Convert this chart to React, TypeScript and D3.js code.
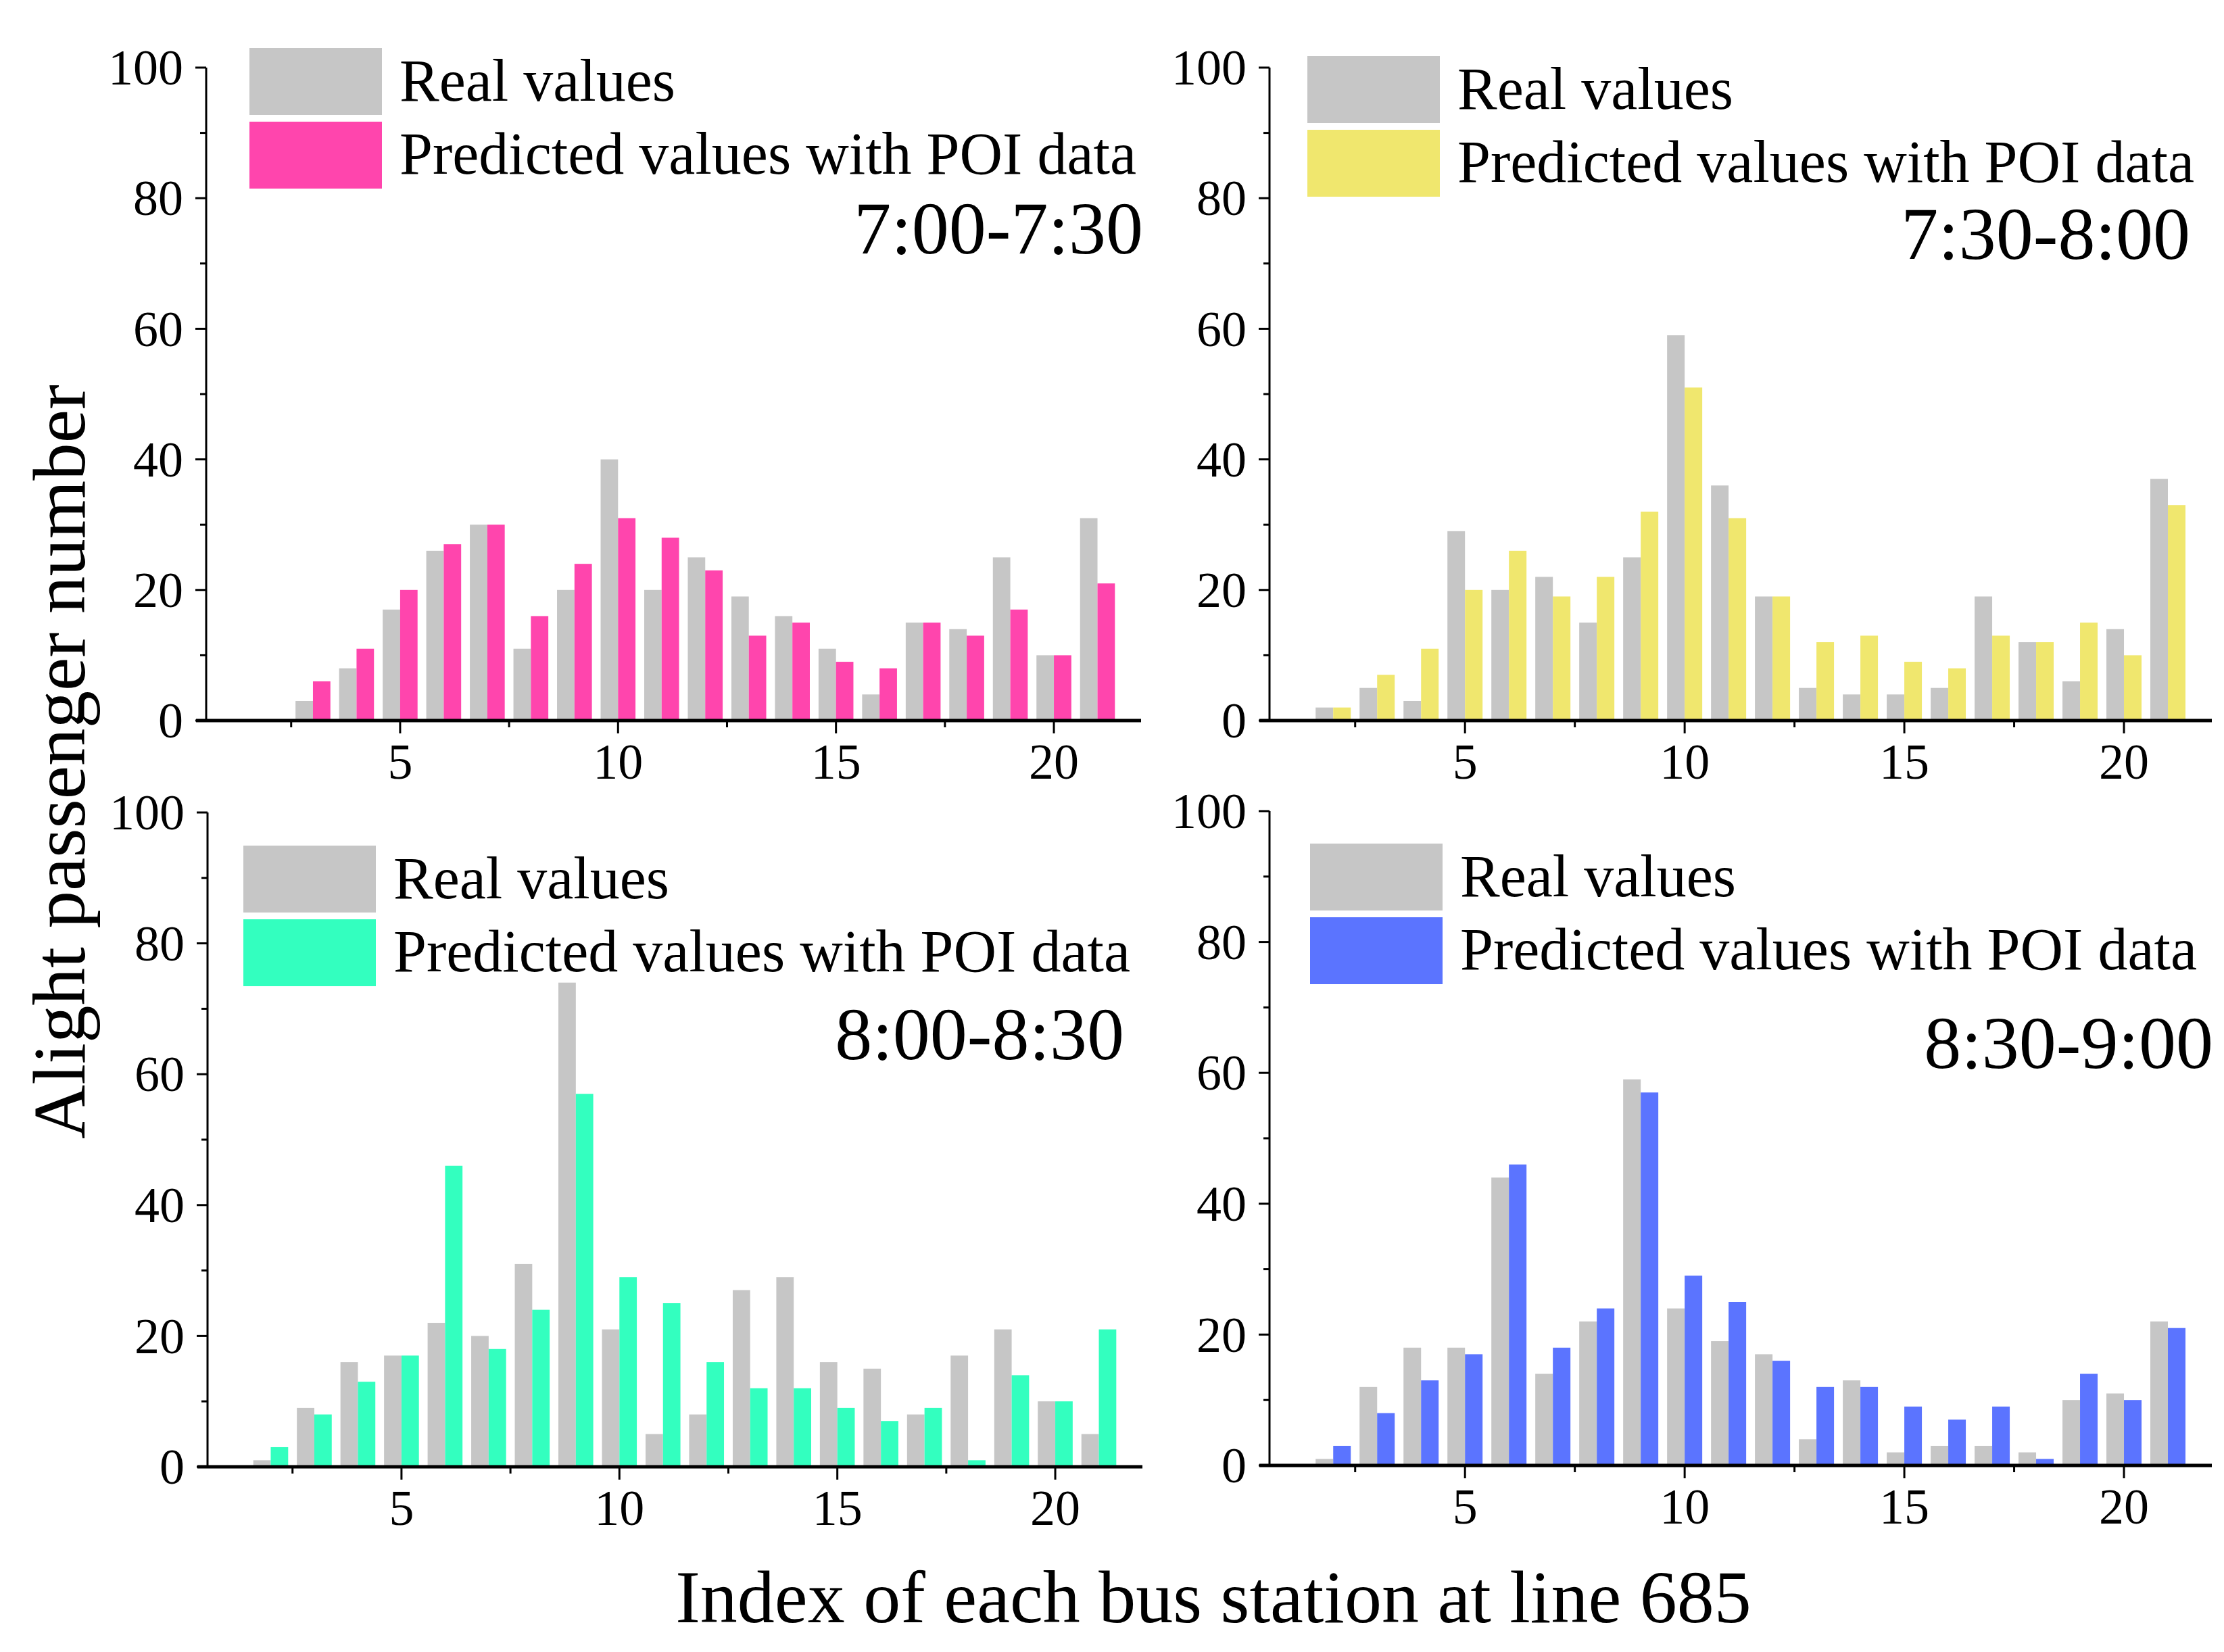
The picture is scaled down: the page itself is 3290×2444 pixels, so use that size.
import * as d3 from "d3";

const W = 3290;
const H = 2444;
const FONT = "'Liberation Serif', 'Times New Roman', serif";

const stations = d3.range(1, 22);

const real0700 = [0, 0, 3, 8, 17, 26, 30, 11, 20, 40, 20, 25, 19, 16, 11, 4, 15, 14, 25, 10, 31];
const pred0700 = [0, 0, 6, 11, 20, 27, 30, 16, 24, 31, 28, 23, 13, 15, 9, 8, 15, 13, 17, 10, 21];
const real0730 = [0, 2, 5, 3, 29, 20, 22, 15, 25, 59, 36, 19, 5, 4, 4, 5, 19, 12, 6, 14, 37];
const pred0730 = [0, 2, 7, 11, 20, 26, 19, 22, 32, 51, 31, 19, 12, 13, 9, 8, 13, 12, 15, 10, 33];
const real0800 = [0, 1, 9, 16, 17, 22, 20, 31, 74, 21, 5, 8, 27, 29, 16, 15, 8, 17, 21, 10, 5];
const pred0800 = [0, 3, 8, 13, 17, 46, 18, 24, 57, 29, 25, 16, 12, 12, 9, 7, 9, 1, 14, 10, 21];
const real0830 = [0, 1, 12, 18, 18, 44, 14, 22, 59, 24, 19, 17, 4, 13, 2, 3, 3, 2, 10, 11, 22];
const pred0830 = [0, 3, 8, 13, 17, 46, 18, 24, 57, 29, 25, 16, 12, 12, 9, 7, 9, 1, 14, 10, 21];

const periods = ["7:00-7:30", "7:30-8:00", "8:00-8:30", "8:30-9:00"];
const predColors = ["#ff45ad", "#f0e76e", "#33ffbf", "#5b74ff"];
const realColor = "#c6c6c6";
const legendLabels = ["Real values", "Predicted values with POI data"];

const xTicks = [5, 10, 15, 20];
const xMinor = [2.5, 7.5, 12.5, 17.5];
const yTicks = [0, 20, 40, 60, 80, 100];
const yMinor = [10, 30, 50, 70, 90];

// panel frames in page pixels
const frames = [
  { x0: 305, x1: 1688, top: 100, bot: 1066, lx: 369, ly: 71, tx: 1691, ty: 375 },
  { x0: 1878, x1: 3272, top: 100, bot: 1066, lx: 1934, ly: 83, tx: 3240, ty: 383 },
  { x0: 307, x1: 1690, top: 1202, bot: 2170, lx: 360, ly: 1251, tx: 1663, ty: 1567 },
  { x0: 1878, x1: 3272, top: 1200, bot: 2168, lx: 1938, ly: 1248, tx: 3274, ty: 1580 },
];

const series = [
  [real0700, pred0700],
  [real0730, pred0730],
  [real0800, pred0800],
  [real0830, pred0830],
];

function Panel({ i }: { i: number }) {
  const f = frames[i];
  const [real, pred] = series[i];
  const x = d3.scaleLinear().domain([0.55, 22]).range([f.x0, f.x1]);
  const y = d3.scaleLinear().domain([0, 100]).range([f.bot, f.top]);
  const bw = x(0.4) - x(0);

  return (
    <g>
      {stations.map((s, k) => (
        <g key={s}>
          <rect x={x(s - 0.4)} y={y(real[k])} width={bw} height={y(0) - y(real[k])} fill={realColor} />
          <rect x={x(s)} y={y(pred[k])} width={bw} height={y(0) - y(pred[k])} fill={predColors[i]} />
        </g>
      ))}

      {/* y axis */}
      <line x1={f.x0} x2={f.x0} y1={f.top} y2={f.bot} stroke="#000" strokeWidth={3} />
      {yTicks.map((t) => (
        <g key={t}>
          <line x1={f.x0 - 16} x2={f.x0} y1={y(t)} y2={y(t)} stroke="#000" strokeWidth={3} />
          <text x={f.x0 - 34} y={y(t)} dy="0.34em" textAnchor="end" fontSize={74} fontFamily={FONT}>
            {t}
          </text>
        </g>
      ))}
      {yMinor.map((t) => (
        <line key={t} x1={f.x0 - 9} x2={f.x0} y1={y(t)} y2={y(t)} stroke="#000" strokeWidth={3} />
      ))}

      {/* x axis */}
      <line x1={f.x0 - 15} x2={f.x1} y1={f.bot} y2={f.bot} stroke="#000" strokeWidth={5} />
      {xTicks.map((t) => (
        <g key={t}>
          <line x1={x(t)} x2={x(t)} y1={f.bot} y2={f.bot + 19} stroke="#000" strokeWidth={3} />
          <text x={x(t)} y={f.bot + 86} textAnchor="middle" fontSize={74} fontFamily={FONT}>
            {t}
          </text>
        </g>
      ))}
      {xMinor.map((t) => (
        <line key={t} x1={x(t)} x2={x(t)} y1={f.bot} y2={f.bot + 10} stroke="#000" strokeWidth={3} />
      ))}

      {/* legend */}
      {[realColor, predColors[i]].map((c, k) => (
        <g key={k}>
          <rect x={f.lx} y={f.ly + k * 109} width={196} height={99} fill={c} />
          <text x={f.lx + 222} y={f.ly + 78 + k * 108} fontSize={88} fontFamily={FONT}>
            {legendLabels[k]}
          </text>
        </g>
      ))}

      <text x={f.tx} y={f.ty} textAnchor="end" fontSize={110} fontFamily={FONT}>
        {periods[i]}
      </text>
    </g>
  );
}

export default function App() {
  return (
    <svg
      width={W}
      height={H}
      viewBox={`0 0 ${W} ${H}`}
      style={{ position: "absolute", left: 0, top: 0, background: "#fff" }}
    >
      <rect width={W} height={H} fill="#fff" />
      {frames.map((_, i) => (
        <Panel key={i} i={i} />
      ))}
      <text
        transform="translate(125,1127) rotate(-90)"
        textAnchor="middle"
        fontSize={111}
        fontFamily={FONT}
      >
        Alight passenger number
      </text>
      <text x={1795} y={2400} textAnchor="middle" fontSize={110} fontFamily={FONT}>
        Index of each bus station at line 685
      </text>
    </svg>
  );
}
